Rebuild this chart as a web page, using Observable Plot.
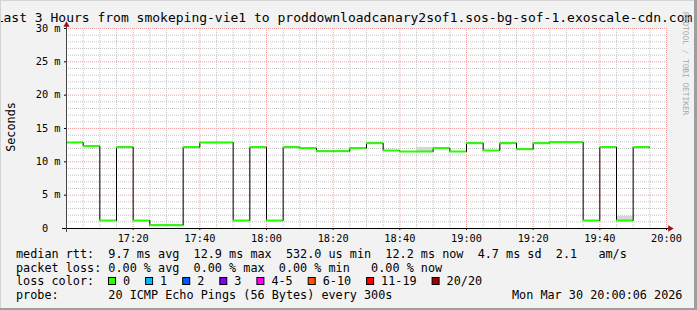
<!DOCTYPE html>
<html><head><meta charset="utf-8">
<script src="https://cdn.jsdelivr.net/npm/d3@7"></script>
<script src="https://cdn.jsdelivr.net/npm/@observablehq/plot@0.6"></script>
<style>
html,body{margin:0;padding:0;background:#f2f2f2;}
#chart{width:697px;height:310px;position:relative;overflow:hidden;}
svg text{white-space:pre;}
</style></head><body><div id="chart"></div>
<script>
const titleText = "Last 3 Hours from smokeping-vie1 to proddownloadcanary2sof1.sos-bg-sof-1.exoscale-cdn.com";
const yLabel = "Seconds";
const stepStart = ["17:00","17:05","17:10","17:15","17:20","17:25","17:30","17:35","17:40","17:45",
  "17:50","17:55","18:00","18:05","18:10","18:15","18:20","18:25","18:30","18:35",
  "18:40","18:45","18:50","18:55","19:00","19:05","19:10","19:15","19:20","19:25",
  "19:30","19:35","19:40","19:45","19:50"];
const medianMs = [12.9,12.35,1.2,12.2,1.2,0.5,0.5,12.2,12.9,12.9,
  1.2,12.2,1.2,12.2,12.05,11.6,11.6,12.05,12.8,11.7,
  11.55,11.55,12.05,11.55,12.8,11.7,12.8,11.9,12.8,12.95,
  12.95,1.2,12.2,1.2,12.2];
const lossCount = [0,0,0,0,0,0,0,0,0,0, 0,0,0,0,0,0,0,0,0,0, 0,0,0,0,0,0,0,0,0,0, 0,0,0,0,0];
const smokeStart = ["18:45","19:45"];
const smokeLow = [11.55, 1.2];
const smokeHigh = [12.15, 1.85];
const yTicks = [0,5,10,15,20,25,30];
const yTickLabels = ["0  ","5 m","10 m","15 m","20 m","25 m","30 m"];
const xTickLabels = ["17:20","17:40","18:00","18:20","18:40","19:00","19:20","19:40","20:00"];
const lossLabels = ["0","1","2","3","4-5","6-10","11-19","20/20"];
const lossColors = ["#26ff00","#00b8ff","#0059ff","#7e00ff","#ff00ff","#ff5500","#ff0000","#a10000"];
const statsRows = [
  "median rtt:  9.7 ms avg  12.9 ms max  532.0 us min  12.2 ms now  4.7 ms sd  2.1   am/s",
  "packet loss: 0.00 % avg  0.00 % max  0.00 % min   0.00 % now"
];
const lossTitle = "loss color:";
const probeText = "probe:       20 ICMP Echo Pings (56 Bytes) every 300s";
const dateText = "Mon Mar 30 20:00:06 2026";
const watermark = "RRDTOOL / TOBI OETIKER";

const T = s => { const [h,m] = s.split(":").map(Number); return new Date(Date.UTC(2026,2,30,h,m)); };
const t0 = T("17:00"), t1 = T("20:00");
const STEP = 300000;
const lossBin = n => n <= 0 ? 0 : n === 1 ? 1 : n === 2 ? 2 : n === 3 ? 3 : n <= 5 ? 4 : n <= 10 ? 5 : n <= 19 ? 6 : 7;
const steps = stepStart.map((s,i) => ({start: T(s), end: new Date(T(s).getTime()+STEP), v: medianMs[i], loss: lossCount[i]}));
const linePts = steps.map(d => ({t: d.start, v: d.v})).concat([{t: steps[steps.length-1].end, v: steps[steps.length-1].v}]);
const smoke = smokeStart.map((s,i) => ({start: T(s), end: new Date(T(s).getTime()+STEP), lo: smokeLow[i], hi: smokeHigh[i]}));
const allX = d3.utcMinute.every(5).range(t0, new Date(t1.getTime()+1));
const minorX = allX.filter(d => d.getUTCMinutes() % 20 !== 0);
const majorX = allX.filter(d => d.getUTCMinutes() % 20 === 0);
const minorY = d3.range(0,31).filter(v => v % 5 !== 0);
const majorY = d3.range(5,31,5);
const xTicks = xTickLabels.map(T);
const yLabelMap = new Map(yTicks.map((v,i) => [v, yTickLabels[i]]));
const fmt = d3.utcFormat("%H:%M");

const plot = Plot.plot({
  width: 697, height: 310,
  marginLeft: 66, marginRight: 31, marginTop: 28, marginBottom: 82,
  style: {background: "transparent", fontFamily: "'DejaVu Sans Mono', monospace", fontSize: "10.3px", color: "#000", overflow: "visible"},
  x: {type: "utc", domain: [t0, t1]},
  y: {domain: [0, 30]},
  color: {type: "identity"},
  marks: [
    Plot.frame({fill: "#ffffff", stroke: null}),
    Plot.ruleY(minorY, {stroke: "#c4c4c4", strokeDasharray: "1,1"}),
    Plot.ruleX(minorX, {stroke: "#c4c4c4", strokeDasharray: "1,1"}),
    Plot.ruleY(majorY, {stroke: "#f0a0a0", strokeDasharray: "1,1"}),
    Plot.ruleX(majorX, {stroke: "#f0a0a0", strokeDasharray: "1,1"}),
    Plot.rect(smoke, {x1: "start", x2: "end", y1: "lo", y2: "hi", fill: "#d6d6d6"}),
    Plot.line(linePts, {x: "t", y: "v", curve: "step-after", stroke: "#000", strokeWidth: 1}),
    Plot.ruleY(steps, {y: "v", x1: "start", x2: "end", stroke: d => lossColors[lossBin(d.loss)], strokeWidth: 2}),
    Plot.axisY(yTicks, {tickFormat: d => yLabelMap.get(d), tickSize: 2, tickPadding: 4, label: null}),
    Plot.axisX(xTicks, {tickFormat: d => fmt(d), tickSize: 2, tickPadding: 4, label: null}),
    Plot.ruleY([0], {stroke: "#000", insetLeft: -4, insetRight: -4}),
    Plot.ruleX([t0], {stroke: "#444", insetTop: -4, insetBottom: -4}),
    Plot.dot([t1], {x: d => d, y: () => 0, symbol: "triangle2", r: 3, rotate: 90, fill: "#a01010", stroke: null, dx: 3.5}),
    Plot.dot([t0], {x: d => d, y: () => 30, symbol: "triangle2", r: 3, fill: "#a01010", stroke: null, dy: -3.5})
  ]
});
document.getElementById("chart").appendChild(plot);

const svg = d3.select(plot);
const mono = "'DejaVu Sans Mono', monospace";
// title
svg.append("text").attr("x", 344).attr("y", 22).attr("text-anchor", "middle")
  .style("font-family", mono).style("font-size", "13px").attr("fill", "#000").text(titleText);
// y label
svg.append("text").attr("transform", "translate(15,127) rotate(-90)").attr("text-anchor", "middle")
  .style("font-family", mono).style("font-size", "11.8px").attr("fill", "#000").text(yLabel);
// watermark
svg.append("text").attr("transform", "translate(683,12) rotate(90)").attr("text-anchor", "start")
  .style("font-family", mono).style("font-size", "7.8px").attr("fill", "#a8a8a8").text(watermark);
// legend
const lg = svg.append("g").attr("text-anchor", "start").style("font-family", mono).style("font-size", "11.8px").attr("fill", "#000");
const CW = 7.1;
const rowY = [258, 271.5, 285, 298.5];
statsRows.forEach((s,i) => lg.append("text").attr("x", 16).attr("y", rowY[i]).text(s));
lg.append("text").attr("x", 16).attr("y", rowY[2]).text(lossTitle);
let cx = 108;
lossLabels.forEach((lab,i) => {
  lg.append("rect").attr("x", cx + 0.5).attr("y", 277.5).attr("width", 7).attr("height", 7)
    .attr("fill", lossColors[i]).attr("stroke", "#000").attr("stroke-width", 1);
  lg.append("text").attr("x", cx + 15).attr("y", rowY[2]).text(lab);
  cx = cx + 15 + lab.length * CW + 15;
});
lg.append("text").attr("x", 16).attr("y", rowY[3]).text(probeText);
lg.append("text").attr("x", 512).attr("y", rowY[3]).text(dateText);
// frame shading
svg.append("rect").attr("x", 0).attr("y", 0).attr("width", 697).attr("height", 1).attr("fill", "#d4d4d4");
svg.append("rect").attr("x", 0).attr("y", 0).attr("width", 1).attr("height", 310).attr("fill", "#d4d4d4");
svg.append("rect").attr("x", 694).attr("y", 0).attr("width", 3).attr("height", 310).attr("fill", "#9e9e9e");
svg.append("rect").attr("x", 0).attr("y", 308).attr("width", 697).attr("height", 2).attr("fill", "#9e9e9e");
</script></body></html>
